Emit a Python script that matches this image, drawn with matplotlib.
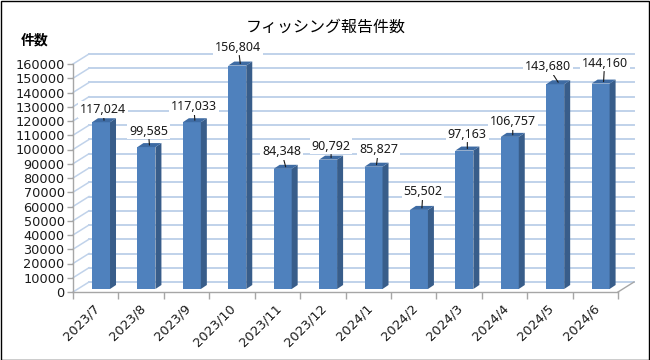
import matplotlib
matplotlib.use("Agg")
import matplotlib.pyplot as plt
from matplotlib.patches import Polygon, Rectangle
import matplotlib.transforms as mtransforms

categories = ["2023/7", "2023/8", "2023/9", "2023/10", "2023/11", "2023/12",
              "2024/1", "2024/2", "2024/3", "2024/4", "2024/5", "2024/6"]
values = [117024, 99585, 117033, 156804, 84348, 90792,
          85827, 55502, 97163, 106757, 143680, 144160]
yticks = list(range(0, 160001, 10000))
title = "フィッシング報告件数"
ylabel = "件数"

# label centre offsets (pixels) relative to the bar top (style only)
label_off = [(-1, 11), (-1, 14), (-1, 14), (-2, 16.5), (-4, 15), (0, 11.5),
             (2, 15.5), (1, 16), (0, 14.5), (0, 13), (-10, 15.5), (1, 18.5)]

W, H = 650, 360
fig = plt.figure(figsize=(W / 100, H / 100), dpi=100)
fig.patch.set_facecolor("white")

# axes geometry in pixels
ax_l, ax_r, ax_b, ax_t = 73, 618, 292, 64
ax = fig.add_axes([ax_l / W, 1 - ax_b / H, (ax_r - ax_l) / W, (ax_b - ax_t) / H])
n = len(categories)
ax.set_xlim(-0.5, n - 0.5)
ax.set_ylim(0, 160000)
ax.patch.set_alpha(0)
for s in ax.spines.values():
    s.set_visible(False)

px_x = (n) / (ax_r - ax_l)          # data x units per pixel
px_y = 160000 / (ax_b - ax_t)       # data y units per pixel

# wall depth and bar depth (pixels)
wdx, wdy = 16, 10
bdx, bdy = 6, 4
bshift_x, bshift_y = 5.3, 3
bw = 18 * px_x

grid_col = "#c0d2ea"
axis_col = "#a6a6a6"

# back wall gridlines + left wall diagonals
for v in yticks:
    x0 = -0.5
    x1 = -0.5 + wdx * px_x
    y1 = v + wdy * px_y
    ax.plot([x0, x1], [v, y1], color=grid_col, lw=1.1, clip_on=False, zorder=1)
    ax.plot([x1, n - 0.5 + wdx * px_x], [y1, y1], color=grid_col, lw=1.4,
            clip_on=False, zorder=1)

# floor right edge
ax.plot([n - 0.5, n - 0.5 + wdx * px_x], [0, wdy * px_y], color=axis_col,
        lw=1.0, clip_on=False, zorder=2)
# front axes lines
ax.plot([-0.5, n - 0.5], [0, 0], color=axis_col, lw=1.0, clip_on=False, zorder=2)
ax.plot([-0.5, -0.5], [0, 160000], color=axis_col, lw=1.0, clip_on=False, zorder=2)

# y ticks
ax.set_yticks(yticks)
ax.set_yticklabels([str(v) for v in yticks], fontsize=9.3, family="DejaVu Sans",
                   color="#1a1a1a")
ax.tick_params(axis="y", length=4, width=1.0, color=axis_col, pad=2)
# x ticks at category boundaries
ax.set_xticks([i - 0.5 for i in range(n + 1)])
ax.set_xticklabels([""] * (n + 1))
ax.tick_params(axis="x", length=5, width=1.0, color=axis_col, direction="out")

# x labels (rotated)
lab_tr = ax.transData + mtransforms.ScaledTranslation(2 / 100, -14 / 100, fig.dpi_scale_trans)
for i, c in enumerate(categories):
    ax.text(i, 0, c, transform=lab_tr, rotation=45, rotation_mode="anchor",
            ha="right", va="center", fontsize=9.3, family="DejaVu Sans", color="#1a1a1a")

front = "#4f81bd"
side = "#385d8a"
top = "#3e6ba3"

sx = bshift_x * px_x
sy = bshift_y * px_y
dx = bdx * px_x
dy = bdy * px_y
for i, v in enumerate(values):
    x0 = i - bw / 2 + sx
    y0 = sy
    y1 = v + sy
    ax.add_patch(Rectangle((x0, y0), bw, v, facecolor=front, edgecolor="none",
                           zorder=3, clip_on=False))
    ax.add_patch(Polygon([(x0 + bw, y0), (x0 + bw, y1), (x0 + bw + dx, y1 + dy),
                          (x0 + bw + dx, y0 + dy)], closed=True, facecolor=side,
                         edgecolor="none", zorder=3, clip_on=False))
    ax.add_patch(Polygon([(x0, y1), (x0 + bw, y1), (x0 + bw + dx, y1 + dy),
                          (x0 + dx, y1 + dy)], closed=True, facecolor=top,
                         edgecolor="none", zorder=3, clip_on=False))
    # data label with leader line
    ox, oy = label_off[i]
    tx = i + sx + dx / 2
    ty = y1 + dy / 2
    ax.annotate(f"{v:,}", xy=(tx, ty), xytext=(ox * 0.72, oy * 0.72),
                textcoords="offset points", ha="center", va="center",
                fontsize=9, family="Noto Sans", color="#1a1a1a", zorder=5,
                bbox=dict(boxstyle="square,pad=0.15", facecolor="white", edgecolor="none"),
                arrowprops=dict(arrowstyle="-", color="#1a1a1a", lw=0.8,
                                shrinkA=0, shrinkB=0), annotation_clip=False)

# titles
fig.text(326 / W, 1 - 27 / H, title, ha="center", va="center", fontsize=11.5,
         family=["Noto Sans CJK JP", "DejaVu Sans"], color="black")
fig.text(35 / W, 1 - 41 / H, ylabel, ha="center", va="center", fontsize=10,
         fontweight="bold", family=["Noto Sans CJK JP", "DejaVu Sans"], color="black")

# figure border
fig.add_artist(Rectangle((0.5 / W, 0.5 / H), 1 - 1.5 / W, 1 - 1.5 / H,
                         transform=fig.transFigure, fill=False, edgecolor="black", lw=1.0))

fig.savefig("out.png", dpi=100, facecolor="white")
